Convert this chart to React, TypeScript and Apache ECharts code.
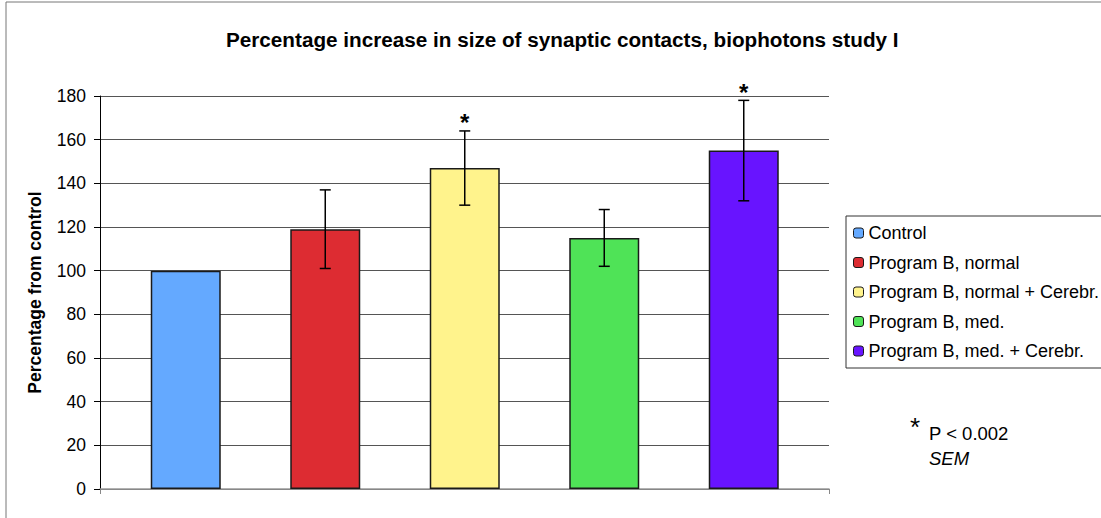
import React, { useEffect, useRef } from "react";
import * as echarts from "echarts";

const titleText = "Percentage increase in size of synaptic contacts, biophotons study I";
const yAxisName = "Percentage from control";
const categories = [
  "Control",
  "Program B, normal",
  "Program B, normal + Cerebr.",
  "Program B, med.",
  "Program B, med. + Cerebr.",
];
const means = [100, 119, 147, 115, 155];
const sems = [0, 18, 17, 13, 23];
const significant = [false, false, true, false, true];
const colors = ["#64A9FF", "#DD2C32", "#FFF38C", "#4FE357", "#6814FF"];
const yMin = 0;
const yMax = 180;
const yStep = 20;
const noteStar = "*";
const noteP = "P < 0.002";
const noteSem = "SEM";

const FONT = "'Liberation Sans', Arial, sans-serif";

export default function App() {
  const ref = useRef<HTMLDivElement>(null);
  useEffect(() => {
    if (!ref.current) return;
    const chart = echarts.init(ref.current, undefined, { renderer: "svg" });

    const barSeries = categories.map((name, i) => ({
      type: "bar",
      name,
      xAxisIndex: 1,
      yAxisIndex: 1,
      barWidth: 70,
      barGap: "-100%",
      data: categories.map((_, j) => (j === i ? means[i] : "-")),
      itemStyle: { color: colors[i], borderColor: "#1a1a1a", borderWidth: 1.5 },
      z: 2,
    }));

    const errData = categories.map((_, i) => [i, means[i], means[i] - sems[i], means[i] + sems[i], significant[i] ? 1 : 0]);

    const option: any = {
      animation: false,
      backgroundColor: "#ffffff",
      textStyle: { fontFamily: FONT },
      title: {
        text: titleText,
        left: 221,
        top: 24,
        textStyle: { fontFamily: FONT, fontSize: 20.7, fontWeight: "bold", color: "#000" },
      },
      legend: {
        orient: "vertical",
        left: 846,
        top: 216,
        padding: [8, 20, 8, 7],
        itemWidth: 10,
        itemHeight: 10,
        itemGap: 11.5,
        borderColor: "#333",
        borderWidth: 1,
        data: categories,
        itemStyle: { borderWidth: 1, borderColor: "#1a1a1a" },
        textStyle: { fontFamily: FONT, fontSize: 18, color: "#000", lineHeight: 18 },
      },
      grid: [
        { left: 100, right: 272, top: 96, bottom: 29 },
        { left: 116, right: 287.5, top: 96, bottom: 29 },
      ],
      xAxis: [
        {
          type: "category",
          gridIndex: 0,
          data: [""],
          boundaryGap: true,
          axisLine: { lineStyle: { color: "#999", width: 1.5 } },
          axisTick: { show: true, length: 5, lineStyle: { color: "#888" } },
          axisLabel: { show: false },
        },
        {
          type: "category",
          gridIndex: 1,
          data: categories,
          show: false,
        },
      ],
      yAxis: [
        {
          type: "value",
          gridIndex: 0,
          min: yMin,
          max: yMax,
          interval: yStep,
          name: yAxisName,
          nameLocation: "middle",
          nameGap: 56,
          nameTextStyle: { fontFamily: FONT, fontSize: 17.5, fontWeight: "bold", color: "#000" },
          axisLine: { show: true, lineStyle: { color: "#000", width: 1 } },
          axisTick: { show: true, length: 6, lineStyle: { color: "#000" } },
          axisLabel: { fontFamily: FONT, fontSize: 17.5, color: "#000", margin: 14 },
          splitLine: { show: true, lineStyle: { color: "#555", width: 1 } },
        },
        {
          type: "value",
          gridIndex: 1,
          min: yMin,
          max: yMax,
          interval: yStep,
          show: false,
          splitLine: { show: false },
        },
      ],
      series: [
        ...barSeries,
        {
          type: "custom",
          name: "SEM",
          xAxisIndex: 1,
          yAxisIndex: 1,
          z: 5,
          data: errData,
          renderItem: (params: any, api: any) => {
            const idx = api.value(0);
            const lo = api.coord([idx, api.value(2)]);
            const hi = api.coord([idx, api.value(3)]);
            const sig = api.value(4);
            const cap = 5.5;
            const style = { stroke: "#000", lineWidth: 1.5 };
            const children: any[] = [];
            if (api.value(3) !== api.value(2)) {
              children.push(
                { type: "line", shape: { x1: hi[0], y1: hi[1], x2: lo[0], y2: lo[1] }, style },
                { type: "line", shape: { x1: hi[0] - cap, y1: hi[1], x2: hi[0] + cap, y2: hi[1] }, style },
                { type: "line", shape: { x1: lo[0] - cap, y1: lo[1], x2: lo[0] + cap, y2: lo[1] }, style }
              );
            }
            if (sig) {
              children.push({
                type: "text",
                x: hi[0],
                y: hi[1] - 20,
                style: {
                  text: "*",
                  fill: "#000",
                  font: `bold 24px ${FONT}`,
                  textAlign: "center",
                  textVerticalAlign: "top",
                },
              });
            }
            return { type: "group", children };
          },
        },
      ],
      graphic: [
        { type: "line", shape: { x1: 6, y1: 2, x2: 1101, y2: 2 }, style: { stroke: "#777", lineWidth: 1 } },
        { type: "line", shape: { x1: 6, y1: 2, x2: 6, y2: 518 }, style: { stroke: "#777", lineWidth: 1 } },
        {
          type: "text",
          left: 910,
          top: 414,
          style: { text: noteStar, fill: "#000", font: `26px ${FONT}` },
        },
        {
          type: "text",
          left: 929,
          top: 424,
          style: { text: noteP, fill: "#000", font: `18.5px ${FONT}` },
        },
        {
          type: "text",
          left: 929,
          top: 449,
          style: { text: noteSem, fill: "#000", font: `italic 18.5px ${FONT}` },
        },
      ],
    };

    chart.setOption(option);
    return () => chart.dispose();
  }, []);

  return <div ref={ref} style={{ position: "fixed", left: 0, top: 0, width: 1101, height: 518 }} />;
}
